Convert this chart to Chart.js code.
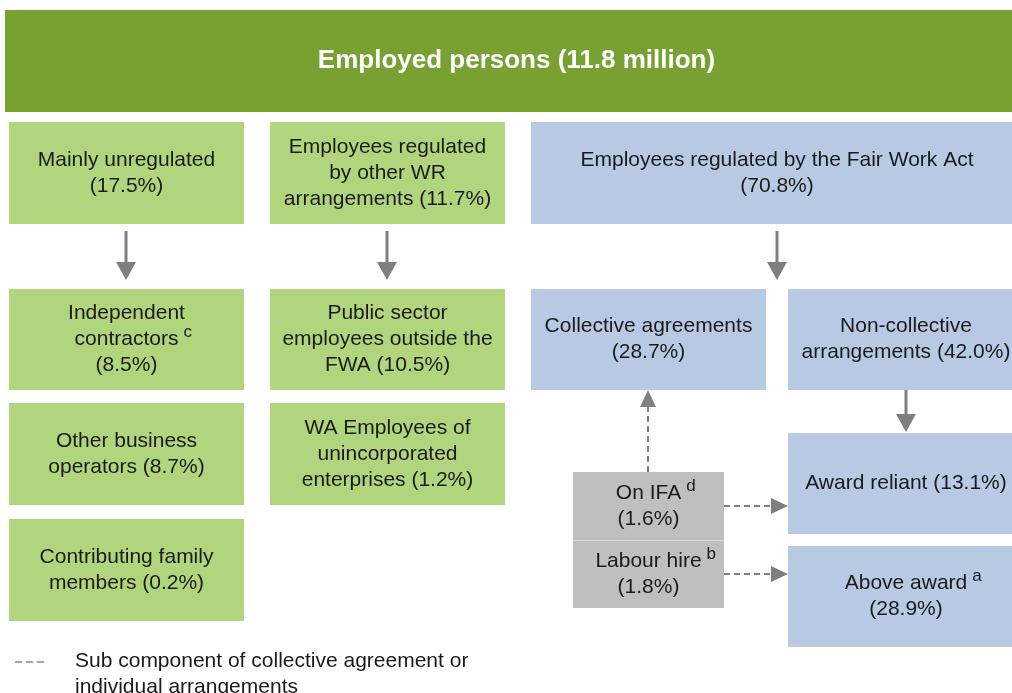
<!DOCTYPE html>
<html>
<head>
<meta charset="utf-8">
<script src="https://cdn.jsdelivr.net/npm/chart.js@4"></script>
<style>
  html, body { margin: 0; padding: 0; background: #fff; }
  #wrap { width: 1012px; height: 693px; }
</style>
</head>
<body>
<div id="wrap"><canvas id="flow"></canvas></div>
<script>
// Data
const headline = "Employed persons (11.8 million)";
const categories = [
  "Mainly unregulated",
  "Employees regulated by other WR arrangements",
  "Employees regulated by the Fair Work Act",
  "Independent contractors",
  "Other business operators",
  "Contributing family members",
  "Public sector employees outside the FWA",
  "WA Employees of unincorporated enterprises",
  "Collective agreements",
  "Non-collective arrangements",
  "Award reliant",
  "Above award",
  "On IFA",
  "Labour hire"
];
const shares = [17.5, 11.7, 70.8, 8.5, 8.7, 0.2, 10.5, 1.2, 28.7, 42.0, 13.1, 28.9, 1.6, 1.8];
const notes = ["", "", "", "c", "", "", "", "", "", "", "", "a", "d", "b"];
const legendText = ["Sub component of collective agreement or", "individual arrangements"];

// Layout (diagram units = pixels of the 1012x693 picture, y down)
const GREEN = "#b1d57c", BLUE = "#b8c9e3", GREY = "#bfbfbf";
const headFrame = [5, 10, 1028, 112];
const frames = [
  [9, 122, 244, 224], [270, 122, 505, 224], [531, 122, 1023, 224],
  [9, 289, 244, 390], [9, 403, 244, 505], [9, 519, 244, 621],
  [270, 289, 505, 390], [270, 403, 505, 505],
  [531, 289, 766, 390], [788, 289, 1024, 390],
  [788, 433, 1024, 534], [788, 546, 1024, 647],
  [573, 472, 724, 540], [573, 540, 724, 608]
];
const fills = [GREEN, GREEN, BLUE, GREEN, GREEN, GREEN, GREEN, GREEN, BLUE, BLUE, BLUE, BLUE, GREY, GREY];
// word index after which each label wraps
const breaks = [[2], [2, 5], [7], [1, 2], [2], [2], [2, 5], [3, 4], [2], [1], [], [2], [2], [2]];
const solidArrows = [[126, 231, 126, 280], [387, 231, 387, 280], [777, 231, 777, 280], [906, 390, 906, 432]];
const dashedArrows = [[648, 472, 648, 390], [724, 506, 788, 506], [724, 574, 788, 574]];

const FONT = '"Liberation Sans", Arial, sans-serif';

function arrow(ctx, x0, y0, x1, y1, dashed) {
  const ang = Math.atan2(y1 - y0, x1 - x0);
  const hl = dashed ? 17 : 18, hw = dashed ? 8 : 10;
  const bx = x1 - hl * Math.cos(ang), by = y1 - hl * Math.sin(ang);
  ctx.save();
  ctx.strokeStyle = "#7f7f7f";
  ctx.fillStyle = "#7f7f7f";
  ctx.lineWidth = dashed ? 2 : 3;
  ctx.setLineDash(dashed ? [6, 4] : []);
  ctx.beginPath();
  ctx.moveTo(x0, y0);
  ctx.lineTo(bx, by);
  ctx.stroke();
  ctx.setLineDash([]);
  ctx.beginPath();
  ctx.moveTo(x1, y1);
  ctx.lineTo(bx - hw * Math.sin(ang), by + hw * Math.cos(ang));
  ctx.lineTo(bx + hw * Math.sin(ang), by - hw * Math.cos(ang));
  ctx.closePath();
  ctx.fill();
  ctx.restore();
}

const diagramPlugin = {
  id: "diagram",
  afterDatasetsDraw(chart) {
    const ctx = chart.ctx;
    const sx = chart.scales.x, sy = chart.scales.y;
    const X = v => sx.getPixelForValue(v), Y = v => sy.getPixelForValue(v);

    // header band
    ctx.save();
    ctx.fillStyle = "#78a132";
    ctx.fillRect(X(headFrame[0]), Y(headFrame[1]), X(headFrame[2]) - X(headFrame[0]), Y(headFrame[3]) - Y(headFrame[1]));
    ctx.fillStyle = "#ffffff";
    ctx.font = "bold 26px " + FONT;
    ctx.textAlign = "center";
    ctx.textBaseline = "middle";
    ctx.fillText(headline, X((headFrame[0] + headFrame[2]) / 2), Y(61));
    ctx.restore();

    // boxes
    categories.forEach((name, i) => {
      const f = frames[i];
      ctx.save();
      ctx.fillStyle = fills[i];
      ctx.fillRect(X(f[0]), Y(f[1]), X(f[2]) - X(f[0]), Y(f[3]) - Y(f[1]));
      ctx.restore();
    });
    // divider inside the grey box
    ctx.save();
    ctx.strokeStyle = "#d6d6d6";
    ctx.lineWidth = 1;
    ctx.beginPath();
    ctx.moveTo(X(frames[13][0]), Y(frames[13][1]) + 0.5);
    ctx.lineTo(X(frames[13][2]), Y(frames[13][1]) + 0.5);
    ctx.stroke();
    ctx.restore();

    // labels
    categories.forEach((name, i) => {
      const f = frames[i];
      const nameWords = name.split(" ");
      const words = nameWords.concat("(" + shares[i].toFixed(1) + "%)");
      const noteAt = notes[i] ? nameWords.length - 1 : -1;
      const lines = [];
      let start = 0;
      breaks[i].concat(words.length).forEach(b => {
        lines.push({ text: words.slice(start, b).join(" "), note: noteAt === b - 1 ? notes[i] : "" });
        start = b;
      });
      const cx = X((f[0] + f[2]) / 2), cy = (Y(f[1]) + Y(f[3])) / 2;
      ctx.save();
      ctx.fillStyle = "#1a1a1a";
      ctx.textBaseline = "middle";
      lines.forEach((ln, k) => {
        const ly = cy + (k - (lines.length - 1) / 2) * 26;
        ctx.font = "21px " + FONT;
        ctx.textAlign = "center";
        ctx.fillText(ln.text, cx, ly);
        if (ln.note) {
          const w = ctx.measureText(ln.text).width;
          ctx.font = "17px " + FONT;
          ctx.textAlign = "left";
          ctx.fillText(ln.note, cx + w / 2 + 5, ly - 7);
        }
      });
      ctx.restore();
    });

    // arrows
    solidArrows.forEach(a => arrow(ctx, X(a[0]), Y(a[1]), X(a[2]), Y(a[3]), false));
    dashedArrows.forEach(a => arrow(ctx, X(a[0]), Y(a[1]), X(a[2]), Y(a[3]), true));

    // legend
    ctx.save();
    ctx.strokeStyle = "#a6a6a6";
    ctx.lineWidth = 2;
    ctx.setLineDash([7, 4]);
    ctx.beginPath();
    ctx.moveTo(X(15), Y(662));
    ctx.lineTo(X(47), Y(662));
    ctx.stroke();
    ctx.fillStyle = "#1a1a1a";
    ctx.font = "21px " + FONT;
    ctx.textAlign = "left";
    ctx.textBaseline = "middle";
    legendText.forEach((t, k) => ctx.fillText(t, X(75), Y(661 + k * 26)));
    ctx.restore();
  }
};

const ctx = document.getElementById("flow").getContext("2d");
const flowChart = new Chart(ctx, {
  type: "scatter",
  data: {
    datasets: [{
      label: "boxes",
      data: frames.map((f, i) => ({ x: (f[0] + f[2]) / 2, y: (f[1] + f[3]) / 2, v: shares[i] })),
      pointRadius: 0
    }]
  },
  options: {
    responsive: true,
    maintainAspectRatio: false,
    animation: false,
    layout: { padding: 0 },
    scales: {
      x: { type: "linear", min: 0, max: 1012, display: false },
      y: { type: "linear", min: 0, max: 693, reverse: true, display: false }
    },
    plugins: {
      legend: { display: false },
      tooltip: { enabled: false }
    }
  },
  plugins: [diagramPlugin]
});
</script>
</body>
</html>
